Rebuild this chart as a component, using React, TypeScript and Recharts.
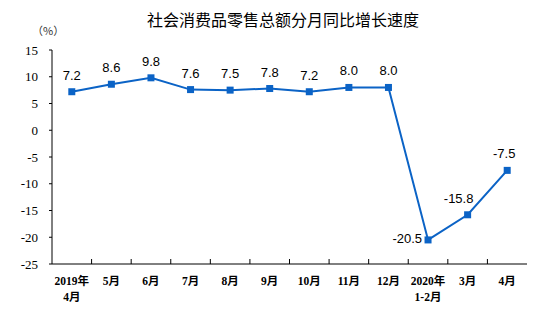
import { LineChart, Line, XAxis, YAxis, LabelList } from 'recharts';

const months = ['2019年\n4月', '5月', '6月', '7月', '8月', '9月', '10月', '11月', '12月', '2020年\n1-2月', '3月', '4月'];
const growth = [7.2, 8.6, 9.8, 7.6, 7.5, 7.8, 7.2, 8.0, 8.0, -20.5, -15.8, -7.5];
const yTicks = [-25, -20, -15, -10, -5, 0, 5, 10, 15];

const data = months.map((m, i) => ({ month: m, value: growth[i] }));

const BLUE = '#0b63c6';

// category labels plus the small upward tick at the right edge of each band
const MonthTick = (props: any) => {
  const { x, y, payload, width, visibleTicksCount, index } = props;
  const lines = String(payload.value).split('\n');
  const half = width / visibleTicksCount / 2;
  return (
    <g>
      {index < visibleTicksCount - 1 && (
        <line x1={x + half} x2={x + half} y1={y} y2={y - 5} stroke="#000" strokeWidth={1} />
      )}
      <text x={x} y={y} textAnchor="middle" fontSize={11.5} fill="#000"
        fontFamily="'Liberation Serif', 'Noto Sans CJK SC', serif" fontWeight="bold">
        {lines.map((l, i) => (
          <tspan key={i} x={x} dy={i === 0 ? 21 : 16}>{l}</tspan>
        ))}
      </text>
    </g>
  );
};

const Square = (props: any) => {
  const { cx, cy } = props;
  if (cx == null || cy == null) return null;
  return <rect x={cx - 3.5} y={cy - 3.5} width={7} height={7} fill={BLUE} />;
};

const ValueLabel = (props: any) => {
  const { x, y, value, index } = props;
  const txt = Number(value).toFixed(1);
  if (index === 9) {
    return (
      <text x={x - 6} y={y + 3} textAnchor="end" fontSize={13} fill="#000"
        fontFamily="'Liberation Sans', Arial, sans-serif">{txt}</text>
    );
  }
  const dx = index === 10 ? -9 : index === 11 ? -3 : 0;
  return (
    <text x={x + dx} y={y - 12} textAnchor="middle" fontSize={13} fill="#000"
      fontFamily="'Liberation Sans', Arial, sans-serif">{txt}</text>
  );
};

export default function App() {
  return (
    <div style={{ position: 'absolute', left: 0, top: 0, width: 554, height: 320, background: '#fff' }}>
      <div style={{ position: 'absolute', left: 0, width: 554, top: 7, textAlign: 'center', fontSize: 16,
        fontFamily: "'Noto Sans CJK SC', sans-serif", color: '#000', paddingLeft: 6 }}>
        社会消费品零售总额分月同比增长速度
      </div>
      <div style={{ position: 'absolute', left: 32, top: 22, fontSize: 11,
        fontFamily: "'Noto Sans CJK SC', sans-serif", color: '#333' }}>
        （%）
      </div>
      <LineChart width={554} height={320} data={data}
        margin={{ top: 50, right: 27, bottom: 6, left: 0 }}>
        <XAxis dataKey="month" interval={0} height={50} padding={{ left: 19.8, right: 19.8 }}
          axisLine={{ stroke: '#000' }} tickLine={false} tickSize={0} tickMargin={0} tick={<MonthTick />} />
        <XAxis xAxisId="t" orientation="top" dataKey="month" height={0} tick={false} tickLine={false}
          axisLine={{ stroke: '#8c8c8c' }} />
        <YAxis domain={[-25, 15]} ticks={yTicks} width={52} interval={0} tickSize={3} tickMargin={11}
          axisLine={{ stroke: '#000' }} tickLine={{ stroke: '#000' }}
          tick={{ fill: '#000', fontSize: 13, fontFamily: "'Liberation Serif', serif" }} />
        <YAxis yAxisId="r" orientation="right" domain={[-25, 15]} width={0} tick={false} tickLine={false}
          axisLine={{ stroke: '#8c8c8c' }} />
        <Line dataKey="value" stroke={BLUE} strokeWidth={2} dot={<Square />} activeDot={false}
          isAnimationActive={false}>
          <LabelList dataKey="value" content={<ValueLabel />} />
        </Line>
      </LineChart>
    </div>
  );
}
